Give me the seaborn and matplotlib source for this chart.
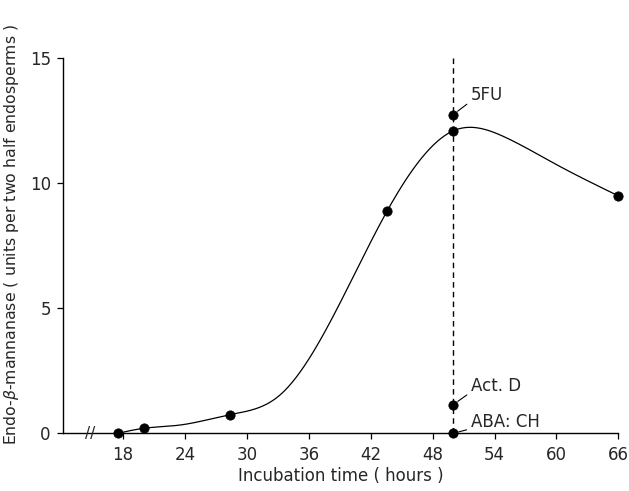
import numpy as np
import pandas as pd
import matplotlib
matplotlib.use('Agg')
import matplotlib.pyplot as plt
import seaborn as sns

# measured points (control)
hours = [17.5, 20.0, 28.4, 43.6, 50.0, 66.0]
activity = [0.0, 0.2, 0.75, 8.9, 12.1, 9.5]

curve_hours = [23.5, 33.2, 47.6, 55.0, 60.0]
curve_activity = [0.33, 1.53, 11.33, 11.85, 10.75]

# treatments applied, measured at 50 h
treat_labels = ['5FU', 'Act. D', 'ABA: CH']
treat_hours = [50.0, 50.0, 50.0]
treat_activity = [12.75, 1.15, 0.0]

xticks = [18, 24, 30, 36, 42, 48, 54, 60, 66]
yticks = [0, 5, 10, 15]


def natural_spline(x, y, xs):
    # natural cubic spline through the read positions (smooth drawn curve)
    x = np.asarray(x, float)
    y = np.asarray(y, float)
    n = len(x)
    h = np.diff(x)
    A = np.zeros((n, n))
    r = np.zeros(n)
    A[0, 0] = A[-1, -1] = 1
    for i in range(1, n - 1):
        A[i, i - 1] = h[i - 1]
        A[i, i] = 2 * (h[i - 1] + h[i])
        A[i, i + 1] = h[i]
        r[i] = 3 * ((y[i + 1] - y[i]) / h[i] - (y[i] - y[i - 1]) / h[i - 1])
    c = np.linalg.solve(A, r)
    b = (y[1:] - y[:-1]) / h - h * (2 * c[:-1] + c[1:]) / 3
    d = (c[1:] - c[:-1]) / (3 * h)
    idx = np.clip(np.searchsorted(x, xs) - 1, 0, n - 2)
    t = xs - x[idx]
    return y[idx] + b[idx] * t + c[idx] * t**2 + d[idx] * t**3


ctrl = pd.DataFrame({'hours': hours, 'activity': activity})
guide = pd.DataFrame({'hours': curve_hours, 'activity': curve_activity})
allpts = pd.concat([ctrl, guide]).sort_values('hours')
xs = np.linspace(allpts['hours'].min(), allpts['hours'].max(), 500)
smooth = pd.DataFrame({'hours': xs,
                       'activity': natural_spline(allpts['hours'], allpts['activity'], xs)})
treat = pd.DataFrame({'label': treat_labels, 'hours': treat_hours,
                      'activity': treat_activity})

sns.set_theme(style='ticks')
plt.rcParams['font.family'] = ['DejaVu Sans']

fig = plt.figure(figsize=(6.29, 4.91), dpi=100)
ax = fig.add_axes([0.1006, 0.1175, 0.8824, 0.7637])

sns.lineplot(data=smooth, x='hours', y='activity', color='black', lw=0.9,
             ax=ax, clip_on=False)
ax.axvline(50, color='black', lw=1.0, ls=(0, (4, 3)), ymin=0, ymax=1)
sns.scatterplot(data=ctrl, x='hours', y='activity', color='black', s=45,
                edgecolor='black', zorder=5, ax=ax, clip_on=False)
sns.scatterplot(data=treat, x='hours', y='activity', color='black', s=45,
                edgecolor='black', zorder=5, ax=ax, clip_on=False)

offsets = [(18, 20), (18, 19), (18, 11)]
for (lab, hx, val), off in zip(treat[['label', 'hours', 'activity']].values, offsets):
    ax.annotate(lab, xy=(hx, val), xytext=off, textcoords='offset pixels',
                fontsize=12, va='center', ha='left',
                arrowprops=dict(arrowstyle='-', color='black', lw=0.8,
                                shrinkA=1, shrinkB=4, relpos=(0, 0.15)))

ax.set_xlim(12.2, 66)
ax.set_ylim(0, 15)
ax.set_xticks(xticks)
ax.set_yticks(yticks)
ax.tick_params(axis='both', labelsize=12, length=4, width=0.9, color='black',
               direction='out', pad=5)
sns.despine(ax=ax)
for s in ['left', 'bottom']:
    ax.spines[s].set_linewidth(1.0)
    ax.spines[s].set_color('black')

# axis break
ax.text(14.8, 0, '//', fontsize=11, ha='center', va='center', clip_on=False)

ax.set_xlabel('Incubation time ( hours )', fontsize=12, labelpad=2)
ax.set_ylabel(r'Endo-$\beta$-mannanase ( units per two half endosperms )',
              fontsize=11.3)
ax.yaxis.set_label_coords(-0.077, 0.53)

fig.savefig('out.png', dpi=100)
